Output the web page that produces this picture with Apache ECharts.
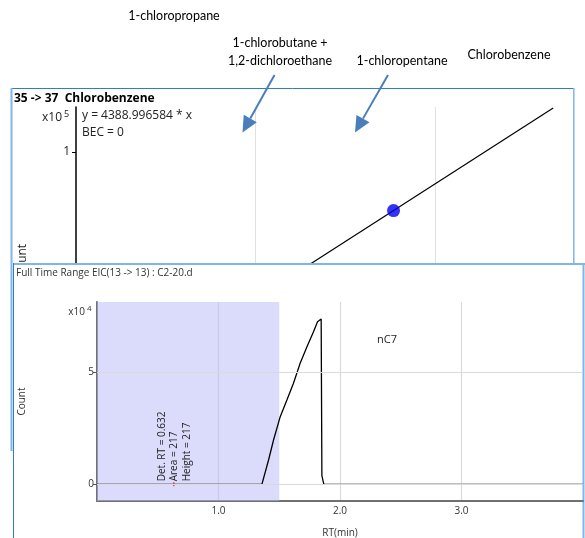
<!DOCTYPE html>
<html>
<head>
<meta charset="utf-8">
<script src="https://cdn.jsdelivr.net/npm/echarts@6/dist/echarts.min.js"></script>
<style>
  html, body { margin: 0; padding: 0; background: #fff; }
  #wrap { position: relative; width: 585px; height: 538px; overflow: hidden; }
  #calib { position: absolute; left: 0; top: 0; width: 585px; height: 538px; }
  #eic { position: absolute; left: 13px; top: 263px; width: 572px; height: 275px; background: #fff; }
</style>
</head>
<body>
<div id="wrap">
  <div id="calib"></div>
  <div id="eic"></div>
</div>
<script>
// ---- Calibration curve: 35 -> 37 Chlorobenzene ----
const calSlope = 4388.996584;          // y = slope * x, BEC = 0
const calLineX = [0, 26.6];            // extent of the fitted line
const calPointX = [17.7];              // calibration level (concentration)
const calPointY = [77700];             // response at that level
const calYTicks = [100000];

// ---- Compound labels above the plots ----
const compoundNames = [
  '1-chloropropane',
  '1-chlorobutane +',
  '1,2-dichloroethane',
  '1-chloropentane',
  'Chlorobenzene'
];

// ---- EIC trace, m/z 13 -> 13, file C2-20.d ----
const rtMin = [0, 1.357, 1.412, 1.453, 1.508, 1.563, 1.617, 1.672, 1.728, 1.782, 1.815, 1.826, 1.845, 1.851, 1.864, 1.867, 4.0];
const countVals = [0, 0, 10850, 19780, 30180, 37630, 45090, 54010, 61430, 68120, 72580, 73340, 73790, 3840, 3390, 0, 0];
const countTicks = [0, 50000];
const integrationWindow = [0, 1.5];
const peakRT = 0.632;
const peakArea = 217;
const peakHeight = 217;
const peakLabel = 'nC7';

const UI_FONT = 'Open Sans';
const NOTE_FONT = 'Lato';
const FRAME_DARK = '#2f7dcc';
const FRAME_LIGHT = '#7fb6ea';
const ARROW = '#4a7ebb';

// ---------- top panel ----------
const calib = echarts.init(document.getElementById('calib'), null, { renderer: 'canvas' });

function arrow(x1, y1, x2, y2) {
  const len = 16, half = 7.5;
  const dx = x2 - x1, dy = y2 - y1;
  const d = Math.hypot(dx, dy);
  const ux = dx / d, uy = dy / d;
  const bx = x2 - ux * len, by = y2 - uy * len;
  return [
    { type: 'line', shape: { x1: x1, y1: y1, x2: bx, y2: by }, style: { stroke: ARROW, lineWidth: 2 }, z: 20 },
    { type: 'polygon', shape: { points: [[x2, y2], [bx - uy * half, by + ux * half], [bx + uy * half, by - ux * half]] }, style: { fill: ARROW }, z: 20 }
  ];
}

const noteStyle = (text) => ({ text: text, fontFamily: NOTE_FONT, fontSize: 12.5, fill: '#000', textAlign: 'center', textVerticalAlign: 'middle' });

const topGraphic = [
  // frame
  { type: 'line', shape: { x1: 11, y1: 88.5, x2: 574, y2: 88.5 }, style: { stroke: FRAME_DARK, lineWidth: 1 } },
  { type: 'line', shape: { x1: 11.5, y1: 88, x2: 11.5, y2: 451 }, style: { stroke: FRAME_LIGHT, lineWidth: 2 } },
  { type: 'line', shape: { x1: 573.8, y1: 88, x2: 573.8, y2: 266 }, style: { stroke: FRAME_LIGHT, lineWidth: 1.5 } },
  // panel text
  { type: 'text', x: 14, y: 99, style: { text: '35 -> 37  Chlorobenzene', fontFamily: UI_FONT, fontSize: 12, fontWeight: 'bold', fill: '#000', textVerticalAlign: 'middle' } },
  { type: 'text', x: 62, y: 118, style: { text: 'x10', fontFamily: UI_FONT, fontSize: 12, fill: '#222', textAlign: 'right', textVerticalAlign: 'middle' } },
  { type: 'text', x: 64, y: 114, style: { text: '5', fontFamily: UI_FONT, fontSize: 9, fill: '#222', textVerticalAlign: 'middle' } },
  { type: 'text', x: 82, y: 116, style: { text: 'y = ' + calSlope.toFixed(6) + ' * x', fontFamily: UI_FONT, fontSize: 12, fill: '#222', textVerticalAlign: 'middle' } },
  { type: 'text', x: 82, y: 133, style: { text: 'BEC = 0', fontFamily: UI_FONT, fontSize: 12, fill: '#222', textVerticalAlign: 'middle' } },
  // compound notes
  { type: 'text', x: 174, y: 16, style: noteStyle(compoundNames[0]) },
  { type: 'text', x: 280, y: 43, style: noteStyle(compoundNames[1]) },
  { type: 'text', x: 280, y: 61, style: noteStyle(compoundNames[2]) },
  { type: 'text', x: 402, y: 61, style: noteStyle(compoundNames[3]) },
  { type: 'text', x: 509, y: 55, style: noteStyle(compoundNames[4]) }
].concat(arrow(274.5, 75, 242.5, 132.5), arrow(388, 75, 355, 132.5));

calib.setOption({
  animation: false,
  grid: { left: 76, top: 107, right: 30, bottom: 123.5, outerBoundsMode: 'none', containLabel: false },
  xAxis: {
    type: 'value', min: 0, max: 26.7, interval: 10,
    axisLine: { show: false }, axisTick: { show: false }, axisLabel: { show: false },
    splitLine: { show: true, showMinLine: false, showMaxLine: false, lineStyle: { color: '#e0e0e0', width: 1 } }
  },
  yAxis: {
    type: 'value', min: 0, max: 117143, interval: 100000,
    name: 'Count', nameLocation: 'middle', nameGap: 47,
    nameTextStyle: { fontFamily: UI_FONT, fontSize: 12, color: '#222' },
    axisLine: { show: true, lineStyle: { color: '#000', width: 1.5 } },
    axisTick: { show: true, length: 4, customValues: calYTicks, lineStyle: { color: '#000' } },
    axisLabel: { customValues: calYTicks, formatter: (v) => String(v / 1e5), margin: 6, fontFamily: UI_FONT, fontSize: 12, color: '#222' },
    splitLine: { show: true, showMinLine: false, showMaxLine: false, lineStyle: { color: '#e6e6e6', width: 1.5 } }
  },
  series: [
    {
      type: 'line', silent: true, symbol: 'none',
      data: calLineX.map((x) => [x, calSlope * x]),
      lineStyle: { color: '#000', width: 1.2 }
    },
    {
      type: 'scatter', silent: true, symbolSize: 13,
      data: calPointX.map((x, i) => [x, calPointY[i]]),
      itemStyle: { color: '#0000ee' }, z: 5
    }
  ],
  graphic: topGraphic
});

// ---------- bottom panel ----------
const eic = echarts.init(document.getElementById('eic'), null, { renderer: 'canvas' });
const W = 572, H = 275;

eic.setOption({
  animation: false,
  grid: { left: 84, top: 39, right: 2, bottom: 37, outerBoundsMode: 'none', containLabel: false },
  xAxis: {
    type: 'value', min: 0, max: 4, interval: 1,
    name: 'RT(min)', nameLocation: 'middle', nameGap: 27,
    nameTextStyle: { fontFamily: UI_FONT, fontSize: 10, color: '#333' },
    axisLine: { show: true, onZero: false, lineStyle: { color: '#707070', width: 2 } },
    axisTick: { show: false },
    axisLabel: { showMinLabel: false, showMaxLabel: false, formatter: (v) => v.toFixed(1), margin: 5, fontFamily: UI_FONT, fontSize: 10, color: '#333' },
    splitLine: { show: true, showMinLine: false, showMaxLine: false, lineStyle: { color: '#dadada', width: 1.2 } }
  },
  yAxis: {
    type: 'value', min: -7455, max: 81380,
    name: 'Count', nameLocation: 'middle', nameGap: 70,
    nameTextStyle: { fontFamily: UI_FONT, fontSize: 10, color: '#333' },
    axisLine: { show: true, onZero: false, lineStyle: { color: '#707070', width: 2 } },
    axisTick: { show: true, length: 4, customValues: countTicks, lineStyle: { color: '#555' } },
    axisLabel: { customValues: countTicks, formatter: (v) => String(v / 1e4), margin: 3, fontFamily: UI_FONT, fontSize: 10, color: '#333' },
    splitLine: { show: false }
  },
  series: [
    {
      // horizontal grid lines and the integration window
      type: 'line', data: [], silent: true, z: 1,
      markLine: {
        silent: true, symbol: 'none', label: { show: false },
        lineStyle: { color: '#dadada', width: 1.2, type: 'solid' },
        data: countTicks.map((v) => ({ yAxis: v }))
      },
      markArea: {
        silent: true,
        itemStyle: { color: 'rgba(186,186,248,0.52)' },
        data: [[{ xAxis: integrationWindow[0] }, { xAxis: integrationWindow[1] }]]
      }
    },
    {
      type: 'line', silent: true, symbol: 'none', z: 3,
      data: rtMin.map((x, i) => [x, countVals[i]]),
      lineStyle: { color: '#000', width: 1.3 }
    },
    {
      type: 'scatter', silent: true, z: 4,
      symbol: 'rect', symbolSize: [1.5, 4],
      data: [[peakRT, 0]],
      itemStyle: { color: '#e03030' }
    }
  ]
});

const pk = eic.convertToPixel({ gridIndex: 0 }, [peakRT, 0]);
const rotText = (dx, text) => ({
  type: 'text', x: pk[0] + dx, y: pk[1] - 3, rotation: Math.PI / 2,
  style: { text: text, fontFamily: UI_FONT, fontSize: 10, fill: '#222', textAlign: 'left', textVerticalAlign: 'middle' }, z: 10
});

eic.setOption({
  graphic: [
    { type: 'line', shape: { x1: 0, y1: 1, x2: W, y2: 1 }, style: { stroke: FRAME_LIGHT, lineWidth: 2 } },
    { type: 'line', shape: { x1: 0.5, y1: 0, x2: 0.5, y2: H }, style: { stroke: FRAME_DARK, lineWidth: 1 } },
    { type: 'line', shape: { x1: W - 1.5, y1: 0, x2: W - 1.5, y2: H }, style: { stroke: FRAME_LIGHT, lineWidth: 2 } },
    { type: 'text', x: 3, y: 10, style: { text: 'Full Time Range EIC(13 -> 13) : C2-20.d', fontFamily: UI_FONT, fontSize: 10, fill: '#333', textVerticalAlign: 'middle' } },
    { type: 'text', x: 72, y: 49, style: { text: 'x10', fontFamily: UI_FONT, fontSize: 10, fill: '#333', textAlign: 'right', textVerticalAlign: 'middle' } },
    { type: 'text', x: 74, y: 45.5, style: { text: '4', fontFamily: UI_FONT, fontSize: 8, fill: '#333', textVerticalAlign: 'middle' } },
    { type: 'text', x: 374, y: 77, style: { text: peakLabel, fontFamily: UI_FONT, fontSize: 11, fill: '#222', textAlign: 'center', textVerticalAlign: 'middle' } },
    rotText(-11.5, 'Det. RT = ' + peakRT.toFixed(3)),
    rotText(0.5, 'Area = ' + peakArea),
    rotText(13, 'Height = ' + peakHeight)
  ]
});
</script>
</body>
</html>
